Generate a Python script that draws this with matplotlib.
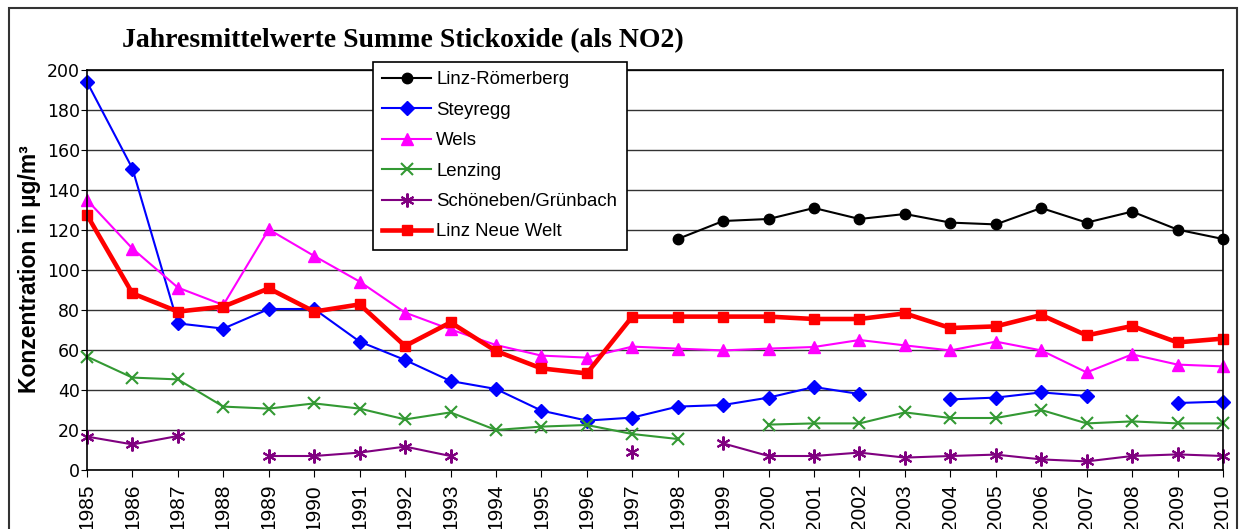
import numpy as np
import matplotlib
matplotlib.use("Agg")
import matplotlib.pyplot as plt
from matplotlib.patches import Rectangle

nan = np.nan

years = list(range(1985, 2011))

# Jahresmittelwerte NOx (als NO2), µg/m³
linz_roemerberg = [nan, nan, nan, nan, nan, nan, nan, nan, nan, nan, nan, nan, nan,
                   115.5, 124.5, 125.5, 131, 125.5, 128, 123.7, 122.8, 131, 123.7, 129.2, 120.2, 115.5]
steyregg = [194, 150.7, 73.3, 70.7, 80.5, 80.5, 64.2, 55, 44.5, 40.5, 29.7, 24.7, 26.2,
            31.7, 32.5, 36.2, 41.5, 38, nan, 35.3, 36.2, 38.8, 37, nan, 33.5, 34.2]
wels = [135, 110.7, 91.2, 82.5, 120.3, 107, 94.2, 78.7, 70.3, 62.5, 57.2, 56.2, 61.7,
        60.7, 59.8, 60.7, 61.5, 65, 62.3, 59.8, 64.2, 59.8, 48.8, 57.8, 52.7, 51.8]
lenzing = [56.7, 46.2, 45.3, 31.7, 30.7, 33.3, 30.7, 25.3, 28.8, 20, 21.7, 22.5, 18,
           15.5, nan, 22.7, 23.3, 23.3, 28.8, 26, 26, 30, 23.3, 24.3, 23.3, 23.3]
schoeneben = [16.7, 12.8, 17, nan, 7, 7, 8.7, 11.7, 7, nan, nan, nan, 8.8,
              nan, 13.3, 7, 7, 8.7, 6.2, 7, 7.7, 5.3, 4.3, 7, 7.8, 7]
linz_neue_welt = [127.5, 88.3, 79.2, 81.7, 90.8, 79.2, 82.8, 62, 73.8, 59.5, 50.8, 48.3, 76.7,
                  76.7, 76.7, 76.7, 75.5, 75.5, 78.3, 71, 71.8, 77.5, 67.3, 72, 63.8, 65.7]

W, H = 1243, 529
fig = plt.figure(figsize=(W / 100, H / 100), dpi=100)
ax = fig.add_axes([87 / W, 1 - 470 / H, (1223 - 87) / W, 400 / H])

plt.rcParams['font.family'] = ['Liberation Sans', 'DejaVu Sans']

lw = 1.5
ax.plot(years, linz_roemerberg, color='black', lw=lw, marker='o', ms=7.5,
        label='Linz-Römerberg', clip_on=False)
ax.plot(years, steyregg, color='#0000FF', lw=lw, marker='D', ms=7.5,
        label='Steyregg', clip_on=False)
ax.plot(years, wels, color='#FF00FF', lw=lw, marker='^', ms=9,
        label='Wels', clip_on=False)
ax.plot(years, lenzing, color='#339933', lw=lw, marker='x', ms=9, mew=1.5,
        label='Lenzing', clip_on=False)
ax.plot(years, schoeneben, color='#800080', lw=lw, marker=(6, 2, 0), ms=10, mew=1.5,
        label='Schöneben/Grünbach', clip_on=False)
ax.plot(years, linz_neue_welt, color='#FF0000', lw=3.3, marker='s', ms=7,
        label='Linz Neue Welt', clip_on=False)

ax.set_xlim(1985, 2010)
ax.set_ylim(0, 200)
ax.set_xticks(years)
ax.set_xticklabels([str(y) for y in years], rotation=90, fontsize=15,
                   family='Liberation Sans')
ax.set_yticks(range(0, 201, 20))
ax.tick_params(axis='y', labelsize=12.5, length=4, pad=1, direction='out')
ax.tick_params(axis='x', length=5, pad=5, direction='out')
ax.yaxis.grid(True, color='#333333', lw=1)
ax.set_axisbelow(True)
for s in ax.spines.values():
    s.set_color('black')
    s.set_linewidth(1.2)

leg = ax.legend(loc='upper left', bbox_to_anchor=(373 / W, 1 - 62 / H),
                bbox_transform=fig.transFigure, borderaxespad=0,
                fontsize=13.4, frameon=True, fancybox=False, edgecolor='black',
                framealpha=1, handlelength=2.6, handletextpad=0.3,
                borderpad=0.5, labelspacing=0.72)
leg.get_frame().set_linewidth(1.2)

fig.text(122 / W, 1 - 47 / H, 'Jahresmittelwerte Summe Stickoxide (als NO2)',
         family='Liberation Serif', fontweight='bold', fontsize=20,
         ha='left', va='baseline')
fig.text(30 / W, 1 - 269 / H, 'Konzentration in µg/m³', rotation=90,
         fontweight='bold', fontsize=16.5, ha='center', va='center')

# Rahmen um das ganze Diagramm
fig.add_artist(Rectangle((9 / W, -0.1), (1237 - 9) / W, 1.1 - 8 / H,
                         transform=fig.transFigure, fill=False,
                         edgecolor='#333333', lw=1.5))

fig.savefig('out.png', dpi=100)
